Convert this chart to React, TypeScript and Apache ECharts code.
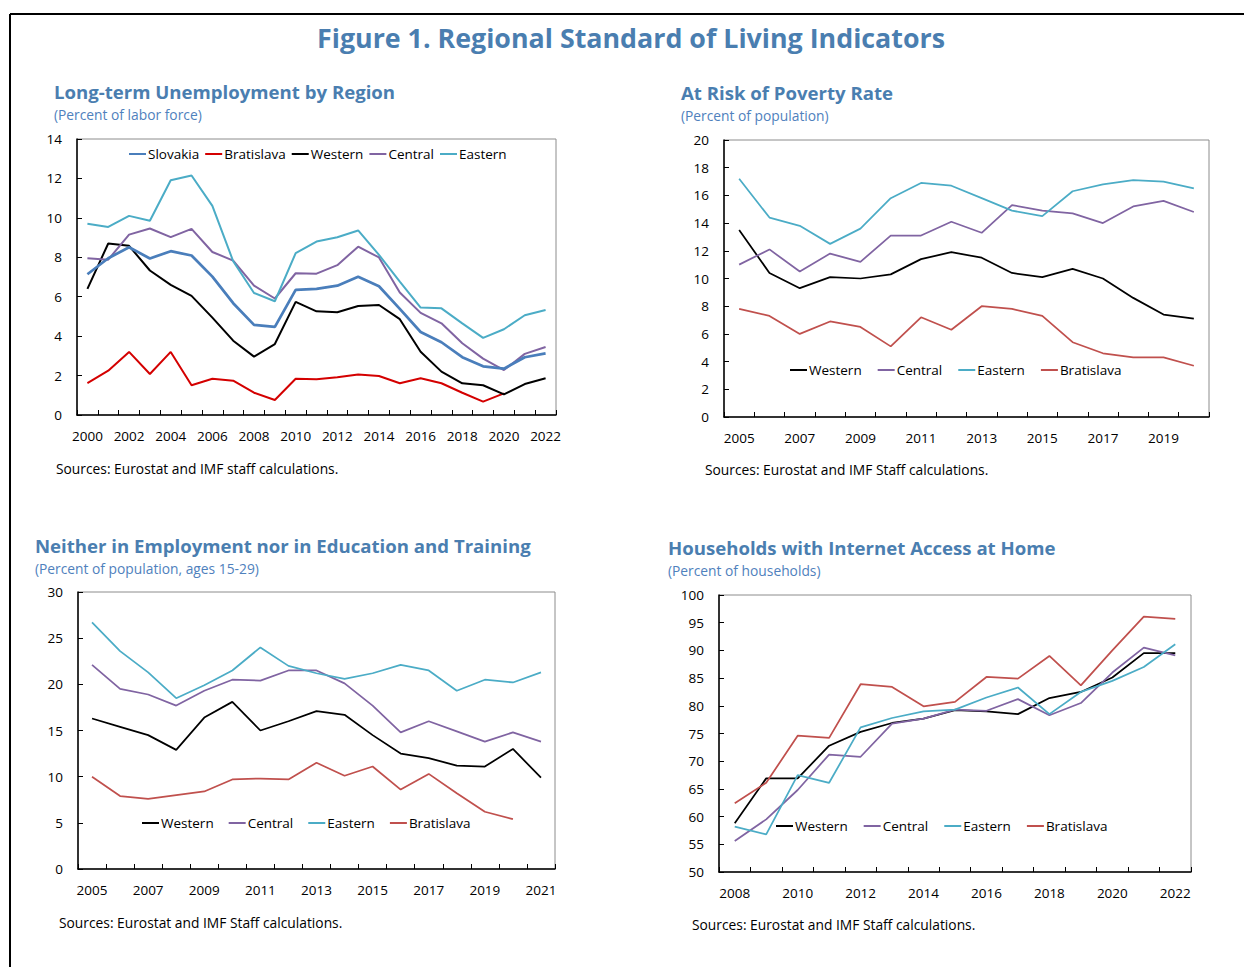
import React, { useEffect, useRef } from "react";
import * as echarts from "echarts";

// ---------- Data ----------
const yearsUnemp = ["2000","2001","2002","2003","2004","2005","2006","2007","2008","2009","2010","2011","2012","2013","2014","2015","2016","2017","2018","2019","2020","2021","2022"];
const unempSlovakia = [7.14,7.95,8.51,7.94,8.31,8.09,7.02,5.67,4.57,4.47,6.35,6.40,6.56,7.01,6.53,5.38,4.21,3.69,2.93,2.47,2.35,2.93,3.13];
const unempBratislava = [1.62,2.25,3.20,2.08,3.20,1.51,1.84,1.74,1.13,0.76,1.84,1.81,1.91,2.06,1.98,1.61,1.86,1.61,1.13,0.68,1.10,null,null];
const unempWestern = [6.40,8.70,8.58,7.33,6.60,6.04,4.94,3.77,2.96,3.60,5.74,5.26,5.21,5.53,5.58,4.86,3.21,2.20,1.61,1.51,1.05,1.57,1.86];
const unempCentral = [7.95,7.88,9.15,9.46,9.02,9.44,8.27,7.83,6.56,5.91,7.19,7.17,7.60,8.54,7.99,6.21,5.18,4.65,3.64,2.86,2.28,3.10,3.45];
const unempEastern = [9.70,9.54,10.10,9.85,11.91,12.15,10.61,7.80,6.19,5.77,8.21,8.80,9.02,9.36,8.12,6.77,5.45,5.41,4.65,3.91,4.35,5.06,5.33];

const yearsPoverty = ["2005","2006","2007","2008","2009","2010","2011","2012","2013","2014","2015","2016","2017","2018","2019","2020"];
const povWestern = [13.5,10.4,9.3,10.1,10.0,10.3,11.4,11.9,11.5,10.4,10.1,10.7,10.0,8.6,7.4,7.1];
const povCentral = [11.0,12.1,10.5,11.8,11.2,13.1,13.1,14.1,13.3,15.3,14.9,14.7,14.0,15.2,15.6,14.8];
const povEastern = [17.2,14.4,13.8,12.5,13.6,15.8,16.9,16.7,15.8,14.9,14.5,16.3,16.8,17.1,17.0,16.5];
const povBratislava = [7.8,7.3,6.0,6.9,6.5,5.1,7.2,6.3,8.0,7.8,7.3,5.4,4.6,4.3,4.3,3.7];

const yearsNeet = ["2005","2006","2007","2008","2009","2010","2011","2012","2013","2014","2015","2016","2017","2018","2019","2020","2021"];
const neetWestern = [16.3,15.4,14.5,12.9,16.4,18.1,15.0,16.0,17.1,16.7,14.5,12.5,12.0,11.2,11.1,13.0,9.9];
const neetCentral = [22.1,19.5,18.9,17.7,19.3,20.5,20.4,21.5,21.5,20.1,17.7,14.8,16.0,14.9,13.8,14.8,13.8];
const neetEastern = [26.7,23.6,21.3,18.5,19.9,21.5,24.0,22.0,21.2,20.6,21.2,22.1,21.5,19.3,20.5,20.2,21.3];
const neetBratislava = [10.0,7.9,7.6,8.0,8.4,9.7,9.8,9.7,11.5,10.1,11.1,8.6,10.3,8.2,6.2,5.4,null];

const yearsInternet = ["2008","2009","2010","2011","2012","2013","2014","2015","2016","2017","2018","2019","2020","2021","2022"];
const netWestern = [58.8,66.9,66.9,72.8,75.3,76.9,77.7,79.2,79.0,78.5,81.4,82.5,85.1,89.5,89.5];
const netCentral = [55.6,59.5,64.8,71.2,70.8,76.8,77.7,79.3,79.1,81.2,78.3,80.5,86.0,90.5,89.1];
const netEastern = [58.2,56.8,67.5,66.1,76.1,77.8,79.0,79.3,81.5,83.3,78.5,82.5,84.5,87.0,91.1];
const netBratislava = [62.4,66.1,74.6,74.2,83.9,83.4,79.9,80.7,85.2,84.9,89.0,83.7,90.0,96.1,95.7];

// ---------- Styles ----------
const FONT = "'Open Sans', 'Noto Sans', sans-serif";
const TITLE_BLUE = "#4A7EB0";
const SUB_BLUE = "#4F81BD";
const C_SLOVAKIA = "#4A7EBB";
const C_BRAT1 = "#D40000";
const C_WESTERN = "#000000";
const C_CENTRAL = "#8064A2";
const C_EASTERN = "#4BACC6";
const C_BRAT = "#C0504D";

type Panel = {
  grid: { left: number; top: number; width: number; height: number };
  cats: string[];
  min: number;
  max: number;
  interval: number;
  series: { name: string; data: (number | null)[]; color: string; width: number }[];
  legend: { left: number; top: number; gap: number; order: string[] };
};

const panels: Panel[] = [
  {
    grid: { left: 77, top: 139, width: 479, height: 276 },
    cats: yearsUnemp, min: 0, max: 14, interval: 2,
    series: [
      { name: "Bratislava", data: unempBratislava, color: C_BRAT1, width: 2 },
      { name: "Western", data: unempWestern, color: C_WESTERN, width: 2 },
      { name: "Central", data: unempCentral, color: C_CENTRAL, width: 2 },
      { name: "Eastern", data: unempEastern, color: C_EASTERN, width: 2 },
      { name: "Slovakia", data: unempSlovakia, color: C_SLOVAKIA, width: 2.75 },
    ],
    legend: { left: 129, top: 147, gap: 6, order: ["Slovakia", "Bratislava", "Western", "Central", "Eastern"] },
  },
  {
    grid: { left: 724, top: 140, width: 485, height: 277 },
    cats: yearsPoverty, min: 0, max: 20, interval: 2,
    series: [
      { name: "Western", data: povWestern, color: C_WESTERN, width: 1.75 },
      { name: "Central", data: povCentral, color: C_CENTRAL, width: 1.75 },
      { name: "Eastern", data: povEastern, color: C_EASTERN, width: 1.75 },
      { name: "Bratislava", data: povBratislava, color: C_BRAT, width: 1.75 },
    ],
    legend: { left: 790, top: 363, gap: 16, order: ["Western", "Central", "Eastern", "Bratislava"] },
  },
  {
    grid: { left: 78, top: 592, width: 477, height: 277 },
    cats: yearsNeet, min: 0, max: 30, interval: 5,
    series: [
      { name: "Western", data: neetWestern, color: C_WESTERN, width: 1.75 },
      { name: "Central", data: neetCentral, color: C_CENTRAL, width: 1.75 },
      { name: "Eastern", data: neetEastern, color: C_EASTERN, width: 1.75 },
      { name: "Bratislava", data: neetBratislava, color: C_BRAT, width: 1.75 },
    ],
    legend: { left: 142, top: 816, gap: 15, order: ["Western", "Central", "Eastern", "Bratislava"] },
  },
  {
    grid: { left: 719, top: 595, width: 472, height: 277 },
    cats: yearsInternet, min: 50, max: 100, interval: 5,
    series: [
      { name: "Western", data: netWestern, color: C_WESTERN, width: 1.75 },
      { name: "Central", data: netCentral, color: C_CENTRAL, width: 1.75 },
      { name: "Eastern", data: netEastern, color: C_EASTERN, width: 1.75 },
      { name: "Bratislava", data: netBratislava, color: C_BRAT, width: 1.75 },
    ],
    legend: { left: 776, top: 819, gap: 16, order: ["Western", "Central", "Eastern", "Bratislava"] },
  },
];

const texts = [
  { t: "Long-term Unemployment by Region", x: 54, y: 91, kind: "title" },
  { t: "(Percent of labor force)", x: 54, y: 114, kind: "sub" },
  { t: "Sources: Eurostat and IMF staff calculations.", x: 56, y: 468, kind: "src" },
  { t: "At Risk of Poverty Rate", x: 681, y: 92, kind: "title" },
  { t: "(Percent of population)", x: 681, y: 115, kind: "sub" },
  { t: "Sources: Eurostat and IMF Staff calculations.", x: 705, y: 469, kind: "src" },
  { t: "Neither in Employment nor in Education and Training", x: 35, y: 545, kind: "title" },
  { t: "(Percent of population, ages 15-29)", x: 35, y: 568, kind: "sub" },
  { t: "Sources: Eurostat and IMF Staff calculations.", x: 59, y: 922, kind: "src" },
  { t: "Households with Internet Access at Home", x: 668, y: 547, kind: "title" },
  { t: "(Percent of households)", x: 668, y: 570, kind: "sub" },
  { t: "Sources: Eurostat and IMF Staff calculations.", x: 692, y: 924, kind: "src" },
];

function buildOption() {
  const grid: any[] = [];
  const xAxis: any[] = [];
  const yAxis: any[] = [];
  const series: any[] = [];
  const legend: any[] = [];

  panels.forEach((p, i) => {
    grid.push({ ...p.grid, show: true, borderColor: "#8c8c8c", borderWidth: 1, backgroundColor: "transparent" });
    xAxis.push({
      type: "category", gridIndex: i, data: p.cats, boundaryGap: true,
      axisLine: { show: true, lineStyle: { color: "#000", width: 1.5 } },
      axisTick: { show: true, inside: true, length: 5, interval: 0, lineStyle: { color: "#000" } },
      axisLabel: { interval: 1, color: "#000", fontSize: 13.5, fontFamily: FONT, margin: 14 },
      splitLine: { show: false },
    });
    yAxis.push({
      type: "value", gridIndex: i, min: p.min, max: p.max, interval: p.interval,
      axisLine: { show: true, lineStyle: { color: "#000", width: 1.5 } },
      axisTick: { show: true, inside: true, length: 5, lineStyle: { color: "#000" } },
      axisLabel: { color: "#000", fontSize: 13.5, fontFamily: FONT, margin: 15 },
      splitLine: { show: false },
    });
    p.series.forEach((s) => {
      series.push({
        type: "line", name: s.name, xAxisIndex: i, yAxisIndex: i, data: s.data,
        symbol: "none", showSymbol: false, connectNulls: false,
        lineStyle: { color: s.color, width: s.width }, itemStyle: { color: s.color },
      });
    });
    const colorOf = (n: string) => p.series.find((s) => s.name === n)!.color;
    legend.push({
      left: p.legend.left, top: p.legend.top, orient: "horizontal",
      icon: "rect", itemWidth: 17, itemHeight: 2, itemGap: p.legend.gap,
      padding: 0, selectedMode: false,
      textStyle: { color: "#000", fontSize: 13.5, fontFamily: FONT, padding: [0, 0, 0, -3] },
      data: p.legend.order.map((n) => ({
        name: n,
        itemStyle: { color: colorOf(n), borderColor: colorOf(n), borderWidth: 0 },
      })),
    });
  });

  const graphic: any[] = [
    { type: "line", shape: { x1: 10, y1: 14, x2: 1244, y2: 14 }, style: { stroke: "#000", lineWidth: 2 } },
    { type: "line", shape: { x1: 10, y1: 14, x2: 10, y2: 967 }, style: { stroke: "#000", lineWidth: 2 } },
    {
      type: "text", x: 631, y: 37,
      style: { text: "Figure 1. Regional Standard of Living Indicators", fill: TITLE_BLUE, font: `bold 26.8px ${FONT}`, textAlign: "center", textVerticalAlign: "middle" },
    },
  ];
  texts.forEach((t) => {
    const font = t.kind === "title" ? `bold 18.6px ${FONT}` : `13.8px ${FONT}`;
    const fill = t.kind === "title" ? TITLE_BLUE : t.kind === "sub" ? SUB_BLUE : "#000";
    graphic.push({ type: "text", x: t.x, y: t.y, style: { text: t.t, fill, font, textAlign: "left", textVerticalAlign: "middle" } });
  });

  return { animation: false, backgroundColor: "#fff", grid, xAxis, yAxis, series, legend, graphic };
}

export default function App() {
  const ref = useRef<HTMLDivElement>(null);
  useEffect(() => {
    if (!ref.current) return;
    const chart = echarts.init(ref.current, undefined, { renderer: "svg" });
    chart.setOption(buildOption() as any);
    return () => chart.dispose();
  }, []);
  return (
    <div
      ref={ref}
      style={{ position: "fixed", left: 0, top: 0, width: 1244, height: 967, background: "#fff" }}
    />
  );
}
